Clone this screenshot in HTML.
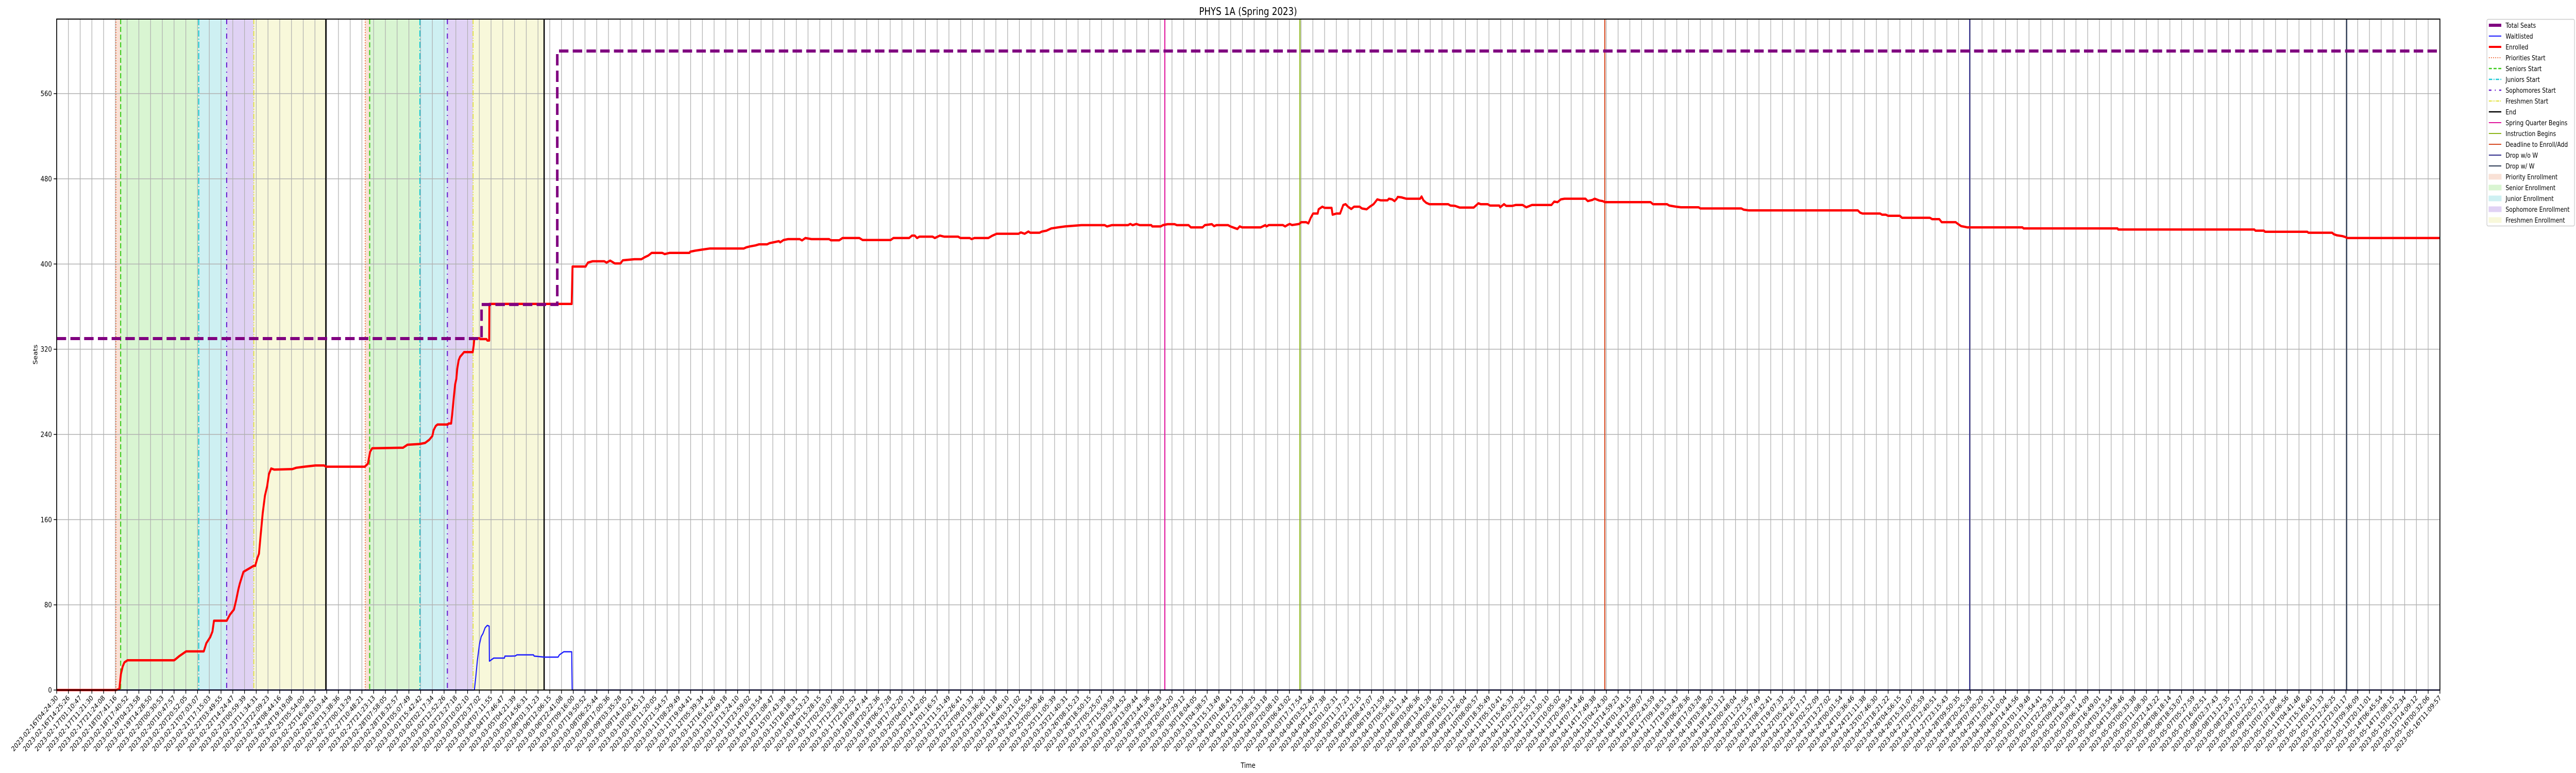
<!DOCTYPE html>
<html><head><meta charset="utf-8">
<meta name="viewport" content="width=6000">
<style>
html,body{margin:0;padding:0;background:#fff;width:100%;height:100%;overflow:hidden;}
svg{display:block;font-family:"DejaVu Sans","Liberation Sans",sans-serif;overflow:hidden;width:100vw;height:100vh;}
</style></head>
<body>
<svg id="chart" xmlns="http://www.w3.org/2000/svg" viewBox="0 0 6000 1500" preserveAspectRatio="none">
<rect width="6000" height="1500" fill="#fff"/>
<g id="bands"></g>
<g id="grid"></g>
<g id="events"></g>
<g id="series"></g>
<g id="axes"></g>
<text x="2907" y="29" font-size="20" text-anchor="middle">PHYS 1A (Spring 2023)</text>
<text x="2907" y="1490" font-size="14" text-anchor="middle">Time</text>
<text x="87" y="688" font-size="14" text-anchor="middle" transform="rotate(-90 87 688)">Seats</text>
<g id="legend"></g>
</svg>
<script>
const enrolledX = [0,4.32,5.06,5.34,5.47,5.62,5.77,6.03,10.01,10.13,10.46,11.03,12.53,12.75,13.08,13.27,13.40,14.48,14.76,15.10,15.29,15.47,15.60,15.91,16.78,16.91,17.10,17.23,17.37,17.55,17.74,17.93,18.08,18.27,18.53,20.08,20.41,21.10,22.04,22.78,22.96,26.24,26.51,26.70,26.88,29.50,29.88,30.90,31.38,31.74,32.00,32.11,32.29,32.44,33.31,33.39,33.60,33.68,33.82,33.94,34.04,34.12,34.24,34.36,34.55,34.70,35.44,35.52,35.58,36.01,36.07,36.61,36.68,36.84,36.86,43.87,43.94,45.05,45.25,45.65,46.64,46.84,47.15,47.43,47.55,48.02,48.22,49.21,49.81,50.09,50.40,50.68,51.59,51.79,52.19,53.89,53.97,54.37,54.97,55.64,58.53,58.73,59.05,59.53,59.84,60.52,60.72,61.11,61.51,61.63,61.91,62.30,63.29,63.49,63.77,64.29,65.79,65.95,66.66,66.94,68.37,68.65,71.03,71.27,72.61,72.85,73.09,73.29,73.49,74.60,74.80,75.23,75.59,76.78,76.98,77.77,77.93,78.17,79.36,79.67,80.07,81.93,82.13,82.45,82.77,82.93,83.72,83.92,84.31,84.71,85.31,85.90,87.29,89.27,89.47,89.87,91.25,91.45,91.65,91.97,92.25,93.24,93.32,94.03,94.23,94.63,95.22,95.42,96.41,96.61,97.60,97.80,98.39,98.59,98.79,99.78,99.98,100.37,100.57,100.77,100.97,102.56,102.95,103.05,103.25,104.44,104.64,104.83,105.03,105.23,105.83,106.02,106.42,106.62,106.82,107.02,107.41,107.49,107.81,108.01,108.60,108.68,109.00,109.32,109.59,109.79,109.99,110.27,110.51,110.98,111.18,111.58,111.85,112.17,112.49,112.77,113.36,113.48,113.76,113.96,114.15,114.23,114.55,114.95,116.14,116.26,116.42,116.65,116.93,118.52,118.72,119.11,119.51,120.70,121.10,121.29,121.89,122.09,122.88,122.96,123.28,123.47,123.99,124.27,124.86,125.18,125.66,127.32,127.56,127.84,128.12,128.43,130.22,130.42,130.81,131.01,131.41,131.68,131.88,135.77,135.97,137.16,137.36,137.95,138.35,139.85,140.01,143.50,143.70,144.10,153.42,153.62,153.82,155.32,155.48,155.80,155.99,156.99,157.18,159.56,159.76,160.36,160.56,161.75,161.94,162.22,162.54,162.74,167.44,167.54,175.54,175.60,187.19,187.29,188.01,188.11,191.70,191.80,193.82,193.95,194.21,194.70,194.93,195.13,203];
const enrolledY = [0,0,0,1,15,22,26,27.9,27.9,29,32,36.3,36.3,44,49.7,55,65.1,65.1,70.8,75.6,84.5,94.2,100,111,116.6,116.6,124,128,145,166,182.5,191.4,202.8,208,207,207.5,208.7,209.7,210.8,210.8,209.7,209.7,212.5,223.8,227,227.5,230.3,231,232,235,238.5,244,248,249.3,249.3,250.3,250.3,257.9,274,287,292,301.6,309.7,312.9,315.3,317.3,317.3,323.4,330.3,330.3,329.5,329.5,328.2,328.2,362.5,362.5,397.6,397.6,401.3,402.6,402.6,401.3,403.2,401.3,400.5,400.5,403.5,404.5,404.5,406.4,408,410.4,410.4,409.3,410.4,410.4,411.6,412.5,413.5,414.6,414.6,415.6,416.5,417.5,418.5,418.5,419.6,420.5,421.5,420.4,422.5,423.4,423.4,422.2,424.4,423.4,423.4,422.3,422.3,424.4,424.4,422.5,422.5,424.4,424.4,426.7,426.7,424.4,425.7,425.7,424.4,426.7,425.7,425.7,424.4,424.4,423.4,424.4,424.4,426.5,428.4,428.4,429.7,428.4,430.5,429.4,429.4,430.5,431.3,433.4,434.4,435.3,436.5,436.5,435.3,436.5,436.5,437.6,436.5,437.6,436.5,436.5,435.3,435.3,436.5,437.4,437.4,436.5,436.5,434.4,434.4,436.5,437.4,435.6,436.5,436.5,435.3,433.7,432.9,435.3,434.4,434.4,436.5,435.3,436.6,436.6,435.3,436.6,437.6,436.6,437.6,439.3,439.3,438.2,443.4,447.4,447.4,451.4,453.8,452.7,452.7,446.3,447.4,447.4,455.4,456.2,453.8,451.7,453.8,453.8,452.2,451.4,453.8,456.2,460.7,459.8,459.8,461.3,460.7,459.1,461.3,463.0,462.6,461.3,461.3,463.4,459.8,457.5,456.2,456.2,454.9,454.6,453.0,453.0,457.0,456.2,456.2,454.9,454.9,453.3,456.2,454.6,454.6,455.4,455.4,453.3,455.4,455.4,458.6,458.1,460.7,461.3,461.3,459.1,460.2,461.3,459.6,459.1,458.1,458.1,456.2,456.2,454.9,453.8,453.3,453.3,452.2,452.2,451.0,450.4,450.4,448.2,447.4,447.4,446.3,446.3,445.3,445.3,443.4,443.4,442.1,442.1,439.3,439.3,437.7,435.6,434.9,434.4,434.4,433.4,433.4,432.4,432.4,431.3,431.3,430.3,430.3,429.4,429.4,428.1,427.0,426.2,425.4,424.4,424.4];
const waitX = [0,35.58,35.70,35.83,36.01,36.16,36.31,36.50,36.68,36.84,36.86,37.23,38.14,38.18,38.69,39.06,39.20,40.62,40.67,41.54,42.71,42.82,43.19,43.87,43.91,203];
const waitY = [0,0,12.3,27.6,42.9,50.2,53,58.6,60.7,60,27.1,30,30,31.9,31.9,32,33,33,31.9,30.9,30.9,33,35.9,35.9,0,0];
const seatsX = [0,36.19,36.19,42.64,42.64,203];
const seatsY = [330,330,362,362,600,600];
const bandStart = [5.05,5.45,12.10,14.48,16.79,26.28,26.66,30.94,33.28,35.47];
const bandEnd   = [5.45,12.10,14.48,16.79,22.93,26.66,30.94,33.28,35.47,41.52];
const bandKind  = ["priority","senior","junior","soph","fresh","priority","senior","junior","soph","fresh"];
const eventX = [94.39,105.90,131.87,162.95,195.06];
const eventKind = ["spring","instr","deadline","dropnow","dropw"];
const endX = [22.93,41.52];
const yTicks = [0,80,160,240,320,400,480,560];
const firstLabels = ["2023-02-16T04:24:30","2023-02-16T14:25:26","2023-02-17T01:10:47","2023-02-17T11:21:30","2023-02-17T21:24:08","2023-02-18T07:41:16","2023-02-18T17:40:52","2023-02-19T04:23:58","2023-02-19T14:28:50","2023-02-20T00:30:53","2023-02-20T10:47:57","2023-02-20T20:52:05","2023-02-21T07:03:07","2023-02-21T17:15:03"];
const lastLabels = ["2023-05-14T06:45:54","2023-05-14T17:08:15","2023-05-15T03:32:34","2023-05-15T14:09:12","2023-05-16T00:32:06","2023-05-16T11:09:57"];
const nTicks = 204;

const L=132,R=5683,T=37,B=1339,XMAX=203,YMAX=630;
const sx=v=>L+(R-L)*v/XMAX;
const sy=v=>B-(B-T)*v/YMAX;
const NS="http://www.w3.org/2000/svg";
function mk(tag,attrs,parent){const e=document.createElementNS(NS,tag);for(const k in attrs)e.setAttribute(k,attrs[k]);parent.appendChild(e);return e;}

const tickLabels=[];
(function(){
  const t0=Date.parse(firstLabels[firstLabels.length-1]+"Z"), t1=Date.parse(lastLabels[0]+"Z");
  const i0=firstLabels.length-1, i1=nTicks-lastLabels.length;
  for(let i=0;i<nTicks;i++){
    if(i<firstLabels.length){tickLabels.push(firstLabels[i]);continue;}
    if(i>=i1){tickLabels.push(lastLabels[i-i1]);continue;}
    const t=t0+(t1-t0)*(i-i0)/(i1-i0);
    tickLabels.push(new Date(t).toISOString().slice(0,19));
  }
})();

const bandColor={priority:"#f9e1d6",senior:"#d9f5d2",junior:"#cef0f2",soph:"#e0d2f4",fresh:"#f8f8da"};
const startStyle={priority:{c:"#ee6a3a",d:"2 3",w:2},senior:{c:"#3ccc1c",d:"10 5",w:2.5},junior:{c:"#1cc8d4",d:"12 4 2 4",w:2.5},soph:{c:"#6a1fd0",d:"10 8 2 8",w:2.5},fresh:{c:"#e0e030",d:"10 3 2 3 2 3",w:2}};
const eventColor={spring:"#e0159c",instr:"#8db61a",deadline:"#d64a22",dropnow:"#2d2a8a",dropw:"#2c3a55"};

const bands=document.getElementById('bands');
for(let i=0;i<bandStart.length;i++){
  const r=mk('rect',{x:sx(bandStart[i]),y:T,width:sx(bandEnd[i])-sx(bandStart[i]),height:B-T,fill:bandColor[bandKind[i]]},bands);
  
  
}
const grid=document.getElementById('grid');
for(let i=0;i<nTicks;i++){
  const l=mk('line',{x1:sx(i),x2:sx(i),y1:T,y2:B,stroke:"#b0b0b0","stroke-width":1.5},grid);
  
  
}
for(const v of yTicks){
  const l=mk('line',{x1:L,x2:R,y1:sy(v),y2:sy(v),stroke:"#b0b0b0","stroke-width":1.5},grid);
  
  
}
const ev=document.getElementById('events');
for(let i=0;i<bandStart.length;i++){
  const s=startStyle[bandKind[i]];
  const l=mk('line',{x1:sx(bandStart[i]),x2:sx(bandStart[i]),y1:T,y2:B,stroke:s.c,"stroke-width":s.w,"stroke-dasharray":s.d},ev);
  
  
}
for(const e of endX){
  const l=mk('line',{x1:sx(e),x2:sx(e),y1:T,y2:B,stroke:"#000","stroke-width":3},ev);
  
  
}
for(let i=0;i<eventX.length;i++){
  const l=mk('line',{x1:sx(eventX[i]),x2:sx(eventX[i]),y1:T,y2:B,stroke:eventColor[eventKind[i]],"stroke-width":2.5},ev);
  
  
}
const ser=document.getElementById('series');
function pts(X,Y){return X.map((x,i)=>sx(x).toFixed(1)+","+sy(Y[i]).toFixed(1)).join(" ");}
const wl=mk('polyline',{points:pts(waitX,waitY),fill:"none",stroke:"#1a1aff","stroke-width":2.5,"stroke-linejoin":"round"},ser);


const en=mk('polyline',{points:pts(enrolledX,enrolledY),fill:"none",stroke:"#ff0000","stroke-width":4.5,"stroke-linejoin":"round"},ser);


const st=mk('polyline',{points:pts(seatsX,seatsY),fill:"none",stroke:"#800080","stroke-width":6,"stroke-dasharray":"22 10"},ser);



const ax=document.getElementById('axes');
const fr=mk('rect',{x:L,y:T,width:R-L,height:B-T,fill:"none",stroke:"#000","stroke-width":2},ax);


for(const v of yTicks){
  const y=sy(v);
  const tk=mk('line',{x1:L-7,x2:L,y1:y,y2:y,stroke:"#000","stroke-width":1.5},ax);
  
  
  const t=mk('text',{x:L-11,y:y+5,"font-size":14,"text-anchor":"end"},ax);
  t.textContent=v;
  
  
}
for(let i=0;i<nTicks;i++){
  const x=sx(i);
  const tk=mk('line',{x1:x,x2:x,y1:B,y2:B+7,stroke:"#000","stroke-width":1.5},ax);
  
  
  const t=mk('text',{x:x+4,y:B+16,"font-size":13.5,"text-anchor":"end",transform:"rotate(-45 "+(x+4)+" "+(B+16)+")"},ax);
  t.textContent=tickLabels[i];
  
  
}

const lg=document.getElementById('legend');
const box=mk('rect',{x:5792.5,y:37.5,width:204,height:401,fill:"#fff",stroke:"#cccccc","stroke-width":1.5,rx:3},lg);


const legendItems=[
 ["Total Seats","line","#800080",6,""],
 ["Waitlisted","line","#1a1aff",2,""],
 ["Enrolled","line","#ff0000",4,""],
 ["Priorities Start","line","#ee6a3a",2,"2 3"],
 ["Seniors Start","line","#3ccc1c",2.5,"7 4"],
 ["Juniors Start","line","#1cc8d4",2.5,"8 3 2 3"],
 ["Sophomores Start","line","#6a1fd0",2.5,"6 8 2 8"],
 ["Freshmen Start","line","#e0e030",2,"7 2 2 2 2 2"],
 ["End","line","#000",2.5,""],
 ["Spring Quarter Begins","line","#e0159c",2,""],
 ["Instruction Begins","line","#8db61a",2,""],
 ["Deadline to Enroll/Add","line","#d64a22",2,""],
 ["Drop w/o W","line","#2d2a8a",2,""],
 ["Drop w/ W","line","#2c3a55",2,""],
 ["Priority Enrollment","patch","#f9e1d6"],
 ["Senior Enrollment","patch","#d9f5d2"],
 ["Junior Enrollment","patch","#cef0f2"],
 ["Sophomore Enrollment","patch","#e0d2f4"],
 ["Freshmen Enrollment","patch","#f8f8da"]];
legendItems.forEach((it,i)=>{
  const cy=49+i*21;
  const g=mk('g',{},lg);
  
  
  if(it[1]==="line"){
    const a={x1:5797,x2:5826,y1:cy,y2:cy,stroke:it[2],"stroke-width":it[3]};
    if(it[4])a["stroke-dasharray"]=it[4];
    mk('line',a,g);
  } else {
    mk('rect',{x:5797,y:cy-5,width:29,height:10,fill:it[2],stroke:it[2]},g);
  }
  const t=mk('text',{x:5836,y:cy+5,"font-size":13},g);
  t.textContent=it[0];
});
</script>
</body></html>
